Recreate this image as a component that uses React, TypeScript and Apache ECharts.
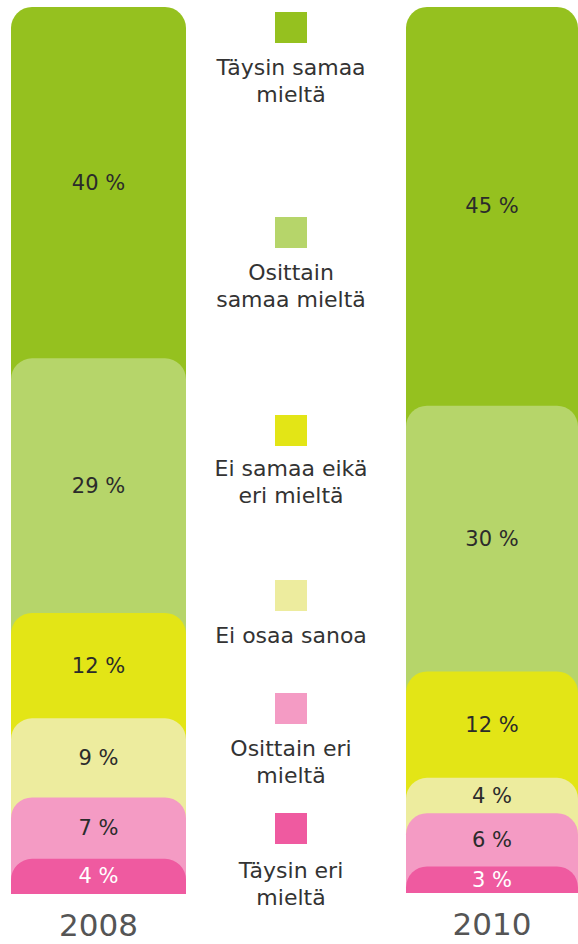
import React, { useEffect, useRef } from "react";
import * as echarts from "echarts";

const categories = [
  "Täysin samaa mieltä",
  "Osittain samaa mieltä",
  "Ei samaa eikä eri mieltä",
  "Ei osaa sanoa",
  "Osittain eri mieltä",
  "Täysin eri mieltä",
];
const legendLabels = [
  "Täysin samaa\nmieltä",
  "Osittain\nsamaa mieltä",
  "Ei samaa eikä\neri mieltä",
  "Ei osaa sanoa",
  "Osittain eri\nmieltä",
  "Täysin eri\nmieltä",
];
const years = ["2008", "2010"];
const values2008 = [40, 29, 12, 9, 7, 4];
const values2010 = [45, 30, 12, 4, 6, 3];
const colors = ["#95C11F", "#B6D56A", "#E3E516", "#EDEC9E", "#F49BC4", "#EF5AA0"];
const labelColors = ["#2b2b2b", "#2b2b2b", "#2b2b2b", "#2b2b2b", "#2b2b2b", "#ffffff"];

// layout (not data)
const legendSquareTops = [12, 217, 415, 580, 693, 813];
const legendTextCenters = [67, 272, 468, 635, 748, 870];
const FONT = "DejaVu Sans";

export default function App() {
  const ref = useRef<HTMLDivElement>(null);
  useEffect(() => {
    if (!ref.current) return;
    const chart = echarts.init(ref.current, undefined, { renderer: "svg" });
    const allValues = [values2008, values2010];
    const series: any[] = [];
    allValues.forEach((vals, gi) => {
      // visual overlapping bars: each reaches cumulative top from bottom
      vals.forEach((_, k) => {
        const cum = vals.slice(k).reduce((a, b) => a + b, 0);
        series.push({
          type: "bar",
          name: categories[k],
          xAxisIndex: gi,
          yAxisIndex: gi,
          data: [cum],
          barWidth: "100%",
          barGap: "-100%",
          silent: true,
          itemStyle: { color: colors[k], borderRadius: [21, 21, 0, 0] },
          label: { show: false },
          z: 2,
        });
      });
      // label bars (stacked, transparent)
      for (let k = vals.length - 1; k >= 0; k--) {
        series.push({
          type: "bar",
          name: categories[k] + " label",
          xAxisIndex: gi,
          yAxisIndex: gi,
          stack: "lab" + gi,
          data: [vals[k]],
          barWidth: "100%",
          barGap: "-100%",
          silent: true,
          itemStyle: { color: "rgba(0,0,0,0)" },
          label: {
            show: true,
            position: "inside",
            formatter: (p: any) => `${p.value} %`,
            color: labelColors[k],
            fontFamily: FONT,
            fontSize: 21,
          },
          z: 3,
        });
      }
    });

    const graphic: any[] = [];
    legendLabels.forEach((t, i) => {
      graphic.push({
        type: "rect",
        shape: { x: 275, y: legendSquareTops[i], width: 32, height: 31 },
        style: { fill: colors[i] },
      });
      graphic.push({
        type: "text",
        style: {
          text: t,
          x: 291,
          y: legendTextCenters[i] - 13.5,
          align: "center",
          verticalAlign: "top",
          fontFamily: FONT,
          fontSize: 22,
          lineHeight: 27,
          fill: "#333333",
        },
      });
    });

    const xAxisBase = {
      type: "category",
      axisLine: { show: false },
      axisTick: { show: false },
      axisLabel: { fontFamily: FONT, fontSize: 31, color: "#555555", margin: 15 },
    };

    chart.setOption({
      animation: false,
      grid: [
        { left: 11, top: 7, width: 175, height: 887 },
        { left: 406, top: 7, width: 172, height: 886 },
      ],
      xAxis: years.map((y, gi) => ({ ...xAxisBase, gridIndex: gi, data: [y] })),
      yAxis: allValues.map((vals, gi) => ({
        type: "value",
        gridIndex: gi,
        min: 0,
        max: vals.reduce((a, b) => a + b, 0),
        show: false,
        splitLine: { show: false },
      })),
      series,
      graphic,
    });
    return () => chart.dispose();
  }, []);
  return (
    <div
      ref={ref}
      style={{ position: "fixed", left: 0, top: 0, width: 578, height: 944, background: "#fff" }}
    />
  );
}
